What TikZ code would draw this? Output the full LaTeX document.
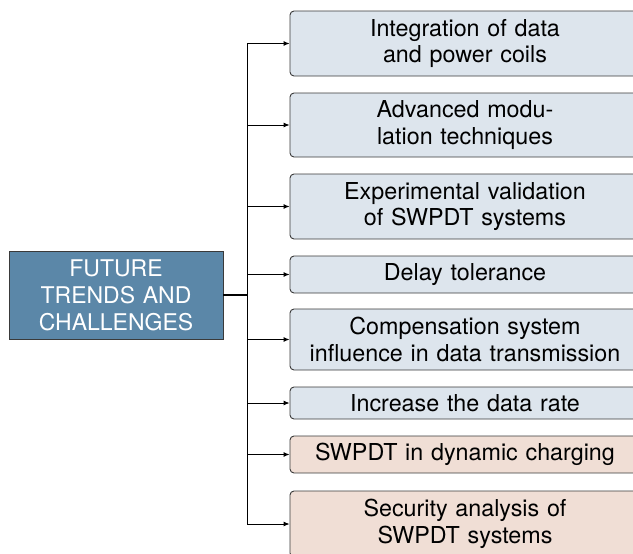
\documentclass[tikz,border=0pt]{standalone}
\usepackage{fontspec}
\setmainfont{TeX Gyre Heros}
\usetikzlibrary{arrows.meta}
\definecolor{mainblue}{HTML}{5B87A8}
\definecolor{lightblue}{HTML}{DDE5ED}
\definecolor{lightpink}{HTML}{F0DED5}
\definecolor{edge}{HTML}{3A3A3A}
\tikzset{
  item/.style={draw=edge, line width=0.9pt, rounded corners=4pt, fill=lightblue,
    minimum width=350pt, text width=345pt, align=center, inner sep=0pt,
    font=\fontsize{23.3}{26.5}\selectfont},
  itemred/.style={item, fill=lightpink},
  mainbox/.style={draw=edge, line width=0.9pt, fill=mainblue, text=white,
    minimum width=214pt, minimum height=88pt, text width=210pt, align=center, inner sep=0pt,
    font=\fontsize{23}{27}\selectfont},
  conn/.style={line width=0.9pt, black},
  arr/.style={conn, -{Latex[length=6pt,width=5pt]}},
}
\begin{document}
\begin{tikzpicture}[x=1pt, y=-1pt]
\useasboundingbox (0,0) rectangle (633,554);
\clip (0,0) rectangle (633,554);
\node[mainbox] (m) at (116,295) {FUTURE\\TRENDS AND\\CHALLENGES};
\node[item, minimum height=65pt] (b1) at (465,43.5) {Integration of data\\and power coils};
\node[item, minimum height=64pt] (b2) at (465,125) {Advanced modu-\\lation techniques};
\node[item, minimum height=65pt] (b3) at (465,206.5) {Experimental validation\\of SWPDT systems};
\node[item, minimum height=37pt] (b4) at (465,274.5) {Delay tolerance};
\node[item, minimum height=61pt] (b5) at (465,339.5) {Compensation system\\influence in data transmission};
\node[item, minimum height=32pt] (b6) at (465,403) {Increase the data rate};
\node[itemred, minimum height=37pt] (b7) at (465,454.5) {SWPDT in dynamic charging};
\node[itemred, minimum height=66pt] (b8) at (465,524) {Security analysis of\\SWPDT systems};
\coordinate (trunk) at (247,0);
\draw[conn] (b1.west -| trunk) -- (b8.west -| trunk);
\draw[conn, line width=2pt] (m.east) -- (m.east -| trunk);
\foreach \b in {b1,b2,b3,b4,b5,b6,b7,b8}
  \draw[arr] (\b.west -| trunk) -- (\b.west);
\end{tikzpicture}
\end{document}
